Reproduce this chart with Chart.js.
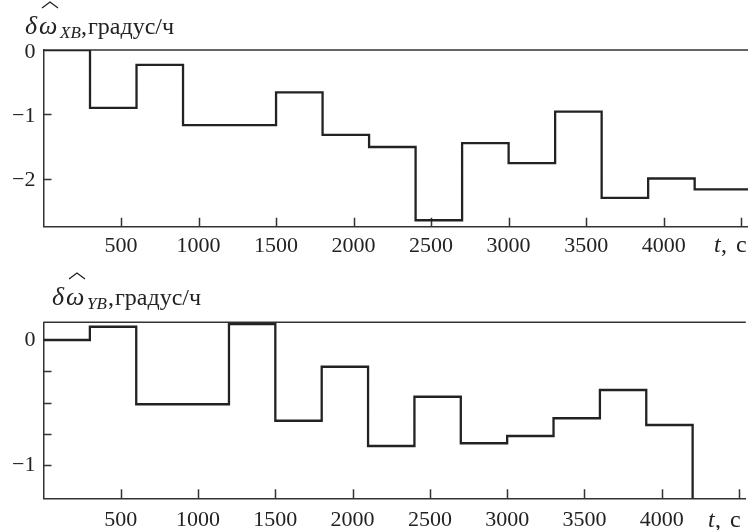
<!DOCTYPE html>
<html><head><meta charset="utf-8">
<script src="https://cdn.jsdelivr.net/npm/chart.js@4/dist/chart.umd.min.js"></script>
<style>
html,body{margin:0;padding:0;background:#fff;width:748px;height:530px;overflow:hidden}
.wrap{position:absolute;left:0;width:748px;height:265px}
canvas{display:block}
</style></head><body>
<div class="wrap" style="top:0"><canvas id="c1" width="748" height="265"></canvas></div>
<div class="wrap" style="top:265px"><canvas id="c2" width="748" height="265"></canvas></div>
<script>
// ---- data ----
const xbTimes  = [0, 300, 600, 900, 1500, 1800, 2100, 2400, 2700, 3000, 3300, 3600, 3900, 4200, 4544];
const xbValues = [0, -0.90, -0.23, -1.17, -0.66, -1.32, -1.51, -2.65, -1.45, -1.76, -0.96, -2.30, -2.00, -2.17, -2.17];
const ybTimes  = [0, 300, 600, 1200, 1500, 1800, 2100, 2400, 2700, 3000, 3300, 3600, 3900, 4200, 4544];
const ybValues = [0, 0.106, -0.514, 0.128, -0.646, -0.214, -0.848, -0.454, -0.826, -0.768, -0.626, -0.40, -0.68, -1.6, -1.6];
const xTickValues = [500, 1000, 1500, 2000, 2500, 3000, 3500, 4000, 4500];
const xTickLabels = ['500', '1000', '1500', '2000', '2500', '3000', '3500', '4000', ''];
const xbYTicks = [0, -1, -2];
const xbYLabels = ['0', '−1', '−2'];
const ybYTicks = [0, -0.25, -0.5, -0.75, -1];
const ybYLabels = ['0', '', '', '', '−1'];
const unitText = 'градус/ч';

const SERIF = "'Liberation Serif', 'DejaVu Serif', serif";

function makeChart(id, times, values, cfg) {
  const pts = times.map((t, i) => ({x: t, y: values[i]}));
  const decor = {
    id: 'decor',
    beforeDatasetsDraw(chart) {
      const ctx = chart.ctx, a = chart.chartArea, xs = chart.scales.x, ys = chart.scales.y;
      ctx.save();
      ctx.strokeStyle = '#333';
      ctx.lineWidth = 1.5;
      ctx.beginPath();
      ctx.moveTo(a.left, a.top); ctx.lineTo(a.right, a.top);
      xs.ticks.forEach(t => {
        const px = Math.round(xs.getPixelForValue(t.value)) + 0.5;
        ctx.moveTo(px, a.bottom); ctx.lineTo(px, a.bottom - 9);
      });
      ys.ticks.forEach(t => {
        if (t.value >= 0) return;
        const py = Math.round(ys.getPixelForValue(t.value)) + 0.5;
        ctx.moveTo(a.left, py); ctx.lineTo(a.left + 8, py);
      });
      ctx.stroke();
      ctx.restore();
    },
    afterDraw(chart) {
      const ctx = chart.ctx;
      ctx.save();
      ctx.fillStyle = '#222';
      ctx.strokeStyle = '#222';
      ctx.textBaseline = 'alphabetic';
      const T = cfg.title;
      ctx.font = 'italic 26px ' + SERIF;
      ctx.fillText('δ', T.x, T.y);
      ctx.fillText('ω', T.x + 14, T.y);
      // circumflex accent over omega
      ctx.lineWidth = 1.3;
      ctx.beginPath();
      ctx.moveTo(T.x + 17, T.y - 26);
      ctx.lineTo(T.x + 25, T.y - 32);
      ctx.lineTo(T.x + 33, T.y - 26);
      ctx.stroke();
      ctx.font = 'italic 17px ' + SERIF;
      ctx.fillText(cfg.sub, T.x + 35, T.y + 4);
      ctx.font = '24px ' + SERIF;
      ctx.fillText(',', T.x + 56, T.y);
      ctx.fillText(unitText, T.x + 63, T.y);
      // x-axis title "t, c"
      const X = cfg.tx;
      ctx.font = 'italic 24px ' + SERIF;
      ctx.fillText('t', X.x, X.y);
      ctx.font = '24px ' + SERIF;
      ctx.fillText(',', X.x + 7, X.y);
      ctx.fillText('c', X.x + 22, X.y);
      ctx.restore();
    }
  };
  return new Chart(document.getElementById(id), {
    type: 'line',
    data: { datasets: [{ data: pts, stepped: true, borderColor: '#222', borderWidth: 2.3, pointRadius: 0, fill: false }] },
    options: {
      responsive: false, animation: false, devicePixelRatio: 1,
      layout: { padding: { top: cfg.top, left: 0, right: 0, bottom: 0 } },
      plugins: { legend: { display: false }, tooltip: { enabled: false } },
      scales: {
        x: {
          type: 'linear', position: 'bottom', min: 0, max: 4544,
          grid: { display: false, drawTicks: false },
          border: { display: true, color: '#333', width: 1.5 },
          afterBuildTicks: s => { s.ticks = xTickValues.map(v => ({ value: v })); },
          afterFit: s => { s.height = cfg.xh; },
          ticks: {
            autoSkip: false, maxRotation: 0, minRotation: 0,
            padding: cfg.xpad, color: '#222', font: { family: SERIF, size: 22 },
            callback: (v, i) => xTickLabels[i]
          }
        },
        y: {
          type: 'linear', min: cfg.ymin, max: cfg.ymax,
          grid: { display: false, drawTicks: false },
          border: { display: true, color: '#333', width: 1.5 },
          afterBuildTicks: s => { s.ticks = cfg.yt.map(v => ({ value: v })); },
          afterFit: s => { s.width = 43.5; },
          ticks: {
            autoSkip: false, labelOffset: cfg.ylo,
            padding: 8, color: '#222', font: { family: SERIF, size: 22 },
            callback: (v, i) => cfg.yl[i]
          }
        }
      }
    },
    plugins: [decor]
  });
}

makeChart('c1', xbTimes, xbValues, {
  top: 50, xh: 38.3, xpad: 6, ymin: -2.75, ymax: 0, ylo: 2,
  yt: xbYTicks, yl: xbYLabels, sub: 'XB',
  title: { x: 25, y: 34 }, tx: { x: 714, y: 252 }
});
makeChart('c2', ybTimes, ybValues, {
  top: 57.3, xh: 31.7, xpad: 9, ymin: -1.2664, ymax: 0.1416, ylo: 0,
  yt: ybYTicks, yl: ybYLabels, sub: 'YB',
  title: { x: 52, y: 40 }, tx: { x: 708, y: 262 }
});
</script>
</body></html>
